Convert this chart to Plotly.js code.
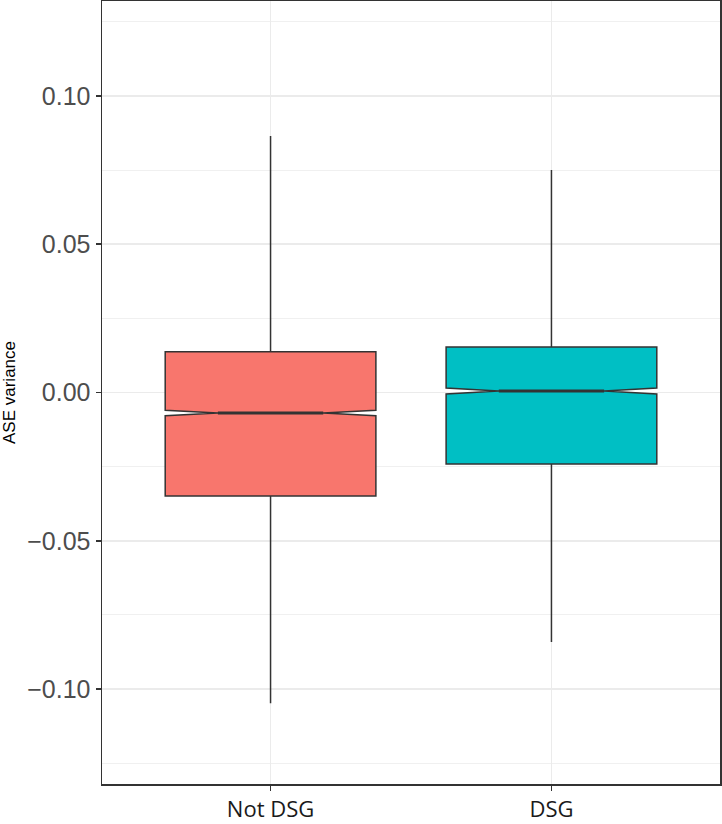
<!DOCTYPE html>
<html>
<head>
<meta charset="utf-8">
<script src="https://cdn.plot.ly/plotly-3.0.1.min.js"></script>
<style>
  html, body { margin: 0; padding: 0; background: #fff; }
  #plot { width: 722px; height: 824px; }
</style>
</head>
<body>
<div id="plot"></div>
<script>
const groups = ['Not DSG', 'DSG']
const positions = [1, 2]
const colors = ['#F8766D', '#00BFC4']
const lowerFence = [-0.1048, -0.0841]
const q1 = [-0.0349, -0.0241]
const median = [-0.0069, 0.0005]
const q3 = [0.0137, 0.0153]
const upperFence = [0.0865, 0.0750]
const notchSpan = [0.0009, 0.001]

const boxWidth = 0.75
const notchWidth = 0.25

const boxTraces = groups.map((g, i) => ({
  type: 'box',
  name: g,
  x: [positions[i]],
  q1: [q1[i]],
  median: [median[i]],
  q3: [q3[i]],
  lowerfence: [lowerFence[i]],
  upperfence: [upperFence[i]],
  notchspan: [notchSpan[i]],
  notched: true,
  notchwidth: notchWidth,
  width: boxWidth,
  whiskerwidth: 0,
  fillcolor: colors[i],
  line: {color: '#333333', width: 1.5},
  hoverinfo: 'none',
  showlegend: false,
}))

// ggplot draws the median thicker than the box outline
const halfMed = boxWidth * (1 - 2 * notchWidth) / 2
const medianTraces = groups.map((g, i) => ({
  type: 'scatter',
  mode: 'lines',
  x: [positions[i] - halfMed, positions[i] + halfMed],
  y: [median[i], median[i]],
  line: {color: '#333333', width: 3},
  hoverinfo: 'none',
  showlegend: false,
}))

const layout = {
  width: 722,
  height: 824,
  margin: {l: 102, r: 2, t: 1, b: 40},
  paper_bgcolor: '#fff',
  plot_bgcolor: '#fff',
  showlegend: false,
  xaxis: {
    range: [0.4, 2.6],
    tickvals: positions,
    ticktext: groups,
    showgrid: true,
    gridcolor: '#EBEBEB',
    gridwidth: 1.5,
    zeroline: false,
    showline: true,
    linecolor: '#333333',
    linewidth: 1.5,
    mirror: true,
    ticks: 'outside',
    ticklen: 5,
    tickwidth: 1.5,
    tickcolor: '#333333',
    tickfont: {family: 'Open Sans, sans-serif', size: 22, color: '#1a1a1a'},
  },
  yaxis: {
    range: [-0.132, 0.132],
    tickvals: [-0.1, -0.05, 0, 0.05, 0.1],
    tickformat: '.2f',
    showgrid: true,
    gridcolor: '#EBEBEB',
    gridwidth: 1.5,
    minor: {
      tickvals: [-0.125, -0.075, -0.025, 0.025, 0.075, 0.125],
      showgrid: true,
      gridcolor: '#F0F0F0',
      gridwidth: 1,
      ticks: '',
    },
    zeroline: false,
    showline: true,
    linecolor: '#333333',
    linewidth: 1.5,
    mirror: true,
    ticks: 'outside',
    ticklen: 5,
    tickwidth: 1.5,
    tickcolor: '#333333',
    tickfont: {family: 'Liberation Sans, Arial, sans-serif', size: 25, color: '#4D4D4D'},
    title: {
      text: 'ASE variance',
      font: {family: 'Liberation Sans, Arial, sans-serif', size: 17, color: '#000'},
      standoff: 8,
    },
  },
}

Plotly.newPlot('plot', [...boxTraces, ...medianTraces], layout, {displayModeBar: false, staticPlot: true})
</script>
</body>
</html>
